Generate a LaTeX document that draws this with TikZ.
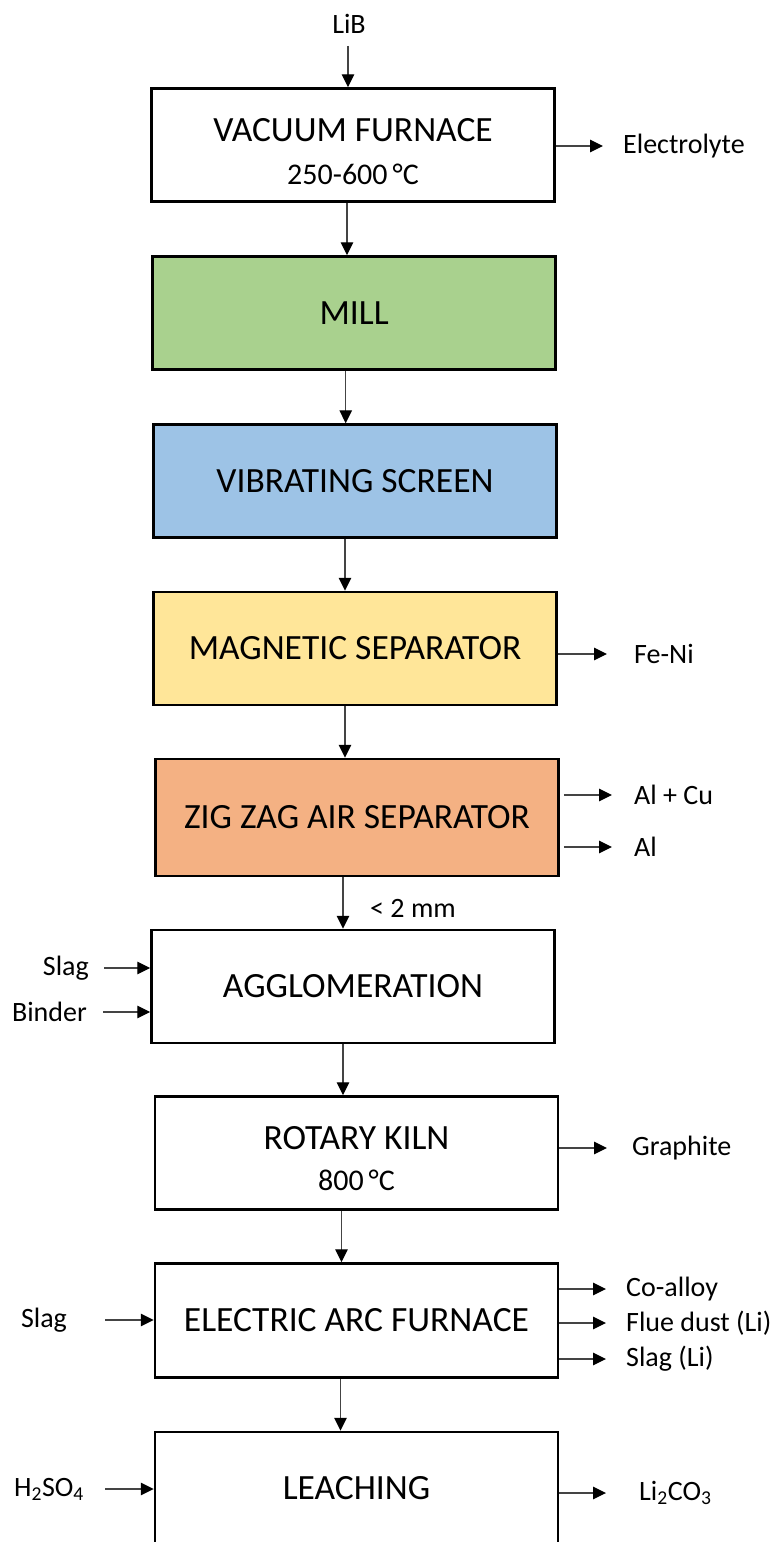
\documentclass[tikz,border=0pt]{standalone}
\usepackage{fontspec}
\setmainfont{Carlito}
\usetikzlibrary{arrows.meta}
\definecolor{millgreen}{HTML}{A9D18E}
\definecolor{screenblue}{HTML}{9DC3E6}
\definecolor{magyellow}{HTML}{FFE699}
\definecolor{airorange}{HTML}{F4B183}
\definecolor{linegray}{HTML}{444444}
\begin{document}
\begin{tikzpicture}[x=1pt,y=-1pt,
  box/.style={draw=black, line width=2.5pt, fill=white, minimum width=403pt,
    minimum height=113pt, inner sep=0pt, align=center,
    font=\fontsize{35.5}{38}\selectfont},
  flow/.style={draw=linegray, line width=1.3pt,
    -{Triangle[length=13pt,width=12.5pt,color=black]}},
  lab/.style={inner sep=0pt, font=\fontsize{28}{32}\selectfont},
]
\useasboundingbox (0,0) rectangle (776,1542);
\clip (0,0) rectangle (776,1542);

% process chain
\node[box] (vf) at (353,145)
  {\rule{0pt}{36pt}VACUUM FURNACE\\[5pt]{\fontsize{30}{34}\selectfont 250-600\,°C}};
\node[box, fill=millgreen]  (mill) at (354.2,313) {MILL};
\node[box, fill=screenblue] (vib)  at (355,481)   {VIBRATING SCREEN};
\node[box, fill=magyellow]  (mag)  at (355,648.5) {MAGNETIC SEPARATOR};
\node[box, fill=airorange, minimum height=117pt] (zig) at (357,817.5) {ZIG ZAG AIR SEPARATOR};
\node[box] (agg) at (353,986.5) {AGGLOMERATION};
\node[box] (rk)  at (356.5,1153)
  {\rule{0pt}{34pt}ROTARY KILN\\[3pt]{\fontsize{30}{34}\selectfont 800\,°C}};
\node[box, minimum height=114pt] (eaf) at (356.5,1320.5) {ELECTRIC ARC FURNACE};
\node[box] (lea) at (356.5,1488.5) {LEACHING};

% feed and main flow
\node[lab] (lib) at (349,24) {LiB};
\draw[flow] ([xshift=-5]vf.north |- lib.south) ++(0,12) -- ([xshift=-5]vf.north);
\draw[flow] ([xshift=-6]vf.south) -- ([xshift=-6]vf.south |- mill.north);
\draw[flow] ([xshift=-8.5]mill.south) -- ([xshift=-8.5]mill.south |- vib.north);
\draw[flow] ([xshift=-10]vib.south) -- ([xshift=-10]vib.south |- mag.north);
\draw[flow] ([xshift=-10]mag.south) -- ([xshift=-10]mag.south |- zig.north);
\draw[flow] ([xshift=-14]zig.south) -- ([xshift=-14]zig.south |- agg.north);
\draw[flow] ([xshift=-10]agg.south) -- ([xshift=-10]agg.south |- rk.north);
\draw[flow] ([xshift=-15]rk.south) -- ([xshift=-15]rk.south |- eaf.north);
\draw[flow] ([xshift=-16]eaf.south) -- ([xshift=-16]eaf.south |- lea.north);
\node[lab, anchor=west] (mm) at (370,908) {< 2 mm};

% outputs on the right
\node[lab, anchor=west] (el)   at (623,146)  {Electrolyte};
\node[lab, anchor=west] (feni) at (634,654)  {Fe-Ni};
\node[lab, anchor=west] (alcu) at (634,795)  {Al + Cu};
\node[lab, anchor=west] (al)   at (634,847)  {Al};
\node[lab, anchor=west] (gr)   at (632,1148) {Graphite};
\node[lab, anchor=west] (co)   at (626,1289) {Co-alloy};
\node[lab, anchor=west] (flue) at (626,1323) {Flue dust (Li)};
\node[lab, anchor=west] (sli)  at (626,1359) {Slag (Li)};
\node[lab, anchor=west] (lic)  at (639,1493) {Li\textsubscript{2}CO\textsubscript{3}};

\draw[flow] (vf.east |- el)    -- ([xshift=-20]el.west);
\draw[flow] (mag.east |- feni) -- ([xshift=-27]feni.west);
\draw[flow] ([xshift=4]zig.east |- alcu) -- ([xshift=-22]alcu.west);
\draw[flow] ([xshift=4]zig.east |- al)   -- ([xshift=-22]al.west);
\draw[flow] (rk.east |- gr)    -- ([xshift=-25]gr.west);
\draw[flow] (eaf.east |- co)   -- ([xshift=-20]co.west);
\draw[flow] (eaf.east |- flue) -- ([xshift=-20]flue.west);
\draw[flow] (eaf.east |- sli)  -- ([xshift=-20]sli.west);
\draw[flow] (lea.east |- lic)  -- ([xshift=-33]lic.west);

% inputs on the left
\node[lab, anchor=east] (slag1) at (89,968)  {Slag};
\node[lab, anchor=east] (bind)  at (87,1012) {Binder};
\node[lab] (slag2) at (44,1320) {Slag};
\node[lab] (acid)  at (49,1489) {H\textsubscript{2}SO\textsubscript{4}};

\draw[flow] ([xshift=15]slag1.east) -- (agg.west |- slag1);
\draw[flow] ([xshift=16]bind.east)  -- (agg.west |- bind);
\draw[flow] ([xshift=38]slag2.east) -- (eaf.west |- slag2);
\draw[flow] ([xshift=21]acid.east)  -- (lea.west |- acid);
\end{tikzpicture}
\end{document}
